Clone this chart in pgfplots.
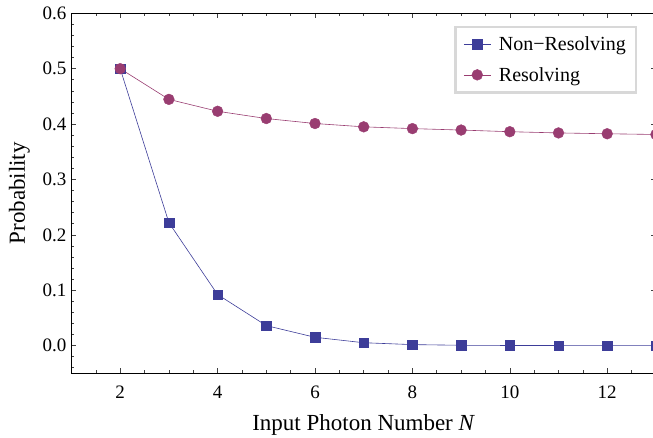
\documentclass[border=0pt]{standalone}
\usepackage{fontspec}
\setmainfont{Liberation Serif}
\usepackage{pgfplots}
\pgfplotsset{compat=1.18}
\definecolor{cblue}{RGB}{61,61,153}
\definecolor{cpink}{RGB}{153,61,113}
\definecolor{legframe}{RGB}{216,216,216}
\begin{document}
\begin{tikzpicture}
\begin{axis}[
  scale only axis, width=584.4pt, height=360pt,
  xmin=1, xmax=13, ymin=-0.05, ymax=0.6,
  xtick={2,4,6,8,10,12},
  ytick={0,0.1,0.2,0.3,0.4,0.5,0.6},
  minor xtick={1.5,2.5,3,3.5,4.5,5,5.5,6.5,7,7.5,8.5,9,9.5,10.5,11,11.5,12.5,13},
  minor ytick={-0.04,-0.02,0.02,0.04,0.06,0.08,0.12,0.14,0.16,0.18,0.22,0.24,0.26,0.28,0.32,0.34,0.36,0.38,0.42,0.44,0.46,0.48,0.52,0.54,0.56,0.58},
  tick align=inside, major tick length=5pt, minor tick length=3pt,
  tick style={black!75, line width=0.6pt},
  axis line style={black, line width=0.8pt},
  /pgf/number format/assume math mode=true,
  tick label style={font=\fontsize{19}{22}\selectfont},
  yticklabel style={/pgf/number format/fixed, /pgf/number format/fixed zerofill, /pgf/number format/precision=1, inner sep=0pt, xshift=-4.8pt, anchor=east},
  xticklabel style={inner sep=0pt, yshift=-12.5pt, anchor=north},
  xlabel={Input Photon Number \textit{N}},
  ylabel={Probability},
  every axis x label/.style={at={(rel axis cs:0.5,0)}, yshift=-57pt, anchor=base, font=\fontsize{23}{26}\selectfont},
  every axis y label/.style={at={(rel axis cs:0,0.5)}, xshift=-46.5pt, rotate=90, anchor=base, font=\fontsize{23}{26}\selectfont},
  legend style={at={(rel axis cs:0.9677,0.966)}, anchor=north east, draw=legframe, line width=2.5pt, fill=white, font=\fontsize{20}{22}\selectfont, inner sep=8pt, row sep=11pt, column sep=6pt},
  legend cell align=left,
  legend image code/.code={\draw[mark repeat=2,mark phase=2] plot coordinates {(0cm,0cm) (0.47cm,0cm) (0.94cm,0cm)};},
]
\coordinate (sw) at (rel axis cs:0,0);
\coordinate (ne) at (rel axis cs:1,1);
\addplot[cblue, line width=0.6pt, mark=square*, mark size=4.8pt, mark options={solid, fill=cblue, draw=cblue, line width=0.4pt}] coordinates {
(2,0.5)(3,0.222)(4,0.0922)(5,0.0361)(6,0.0150)(7,0.0052)(8,0.0018)(9,0.0006)(10,0.0002)(11,0.0001)(12,0)(13,0)};
\addlegendentry{Non−Resolving}
\addplot[cpink, line width=0.6pt, mark=*, mark size=5.4pt, mark options={solid, fill=cpink, draw=cpink, line width=0.4pt}] coordinates {
(2,0.5)(3,0.4446)(4,0.4231)(5,0.4100)(6,0.4010)(7,0.3950)(8,0.3918)(9,0.3892)(10,0.3862)(11,0.3840)(12,0.3825)(13,0.3812)};
\addlegendentry{Resolving}
\end{axis}
\pgfresetboundingbox
\path[use as bounding box] ([shift={(-71.5pt,-64.5pt)}]sw) rectangle ([shift={(-2.9pt,13.3pt)}]ne);
\end{tikzpicture}
\end{document}
